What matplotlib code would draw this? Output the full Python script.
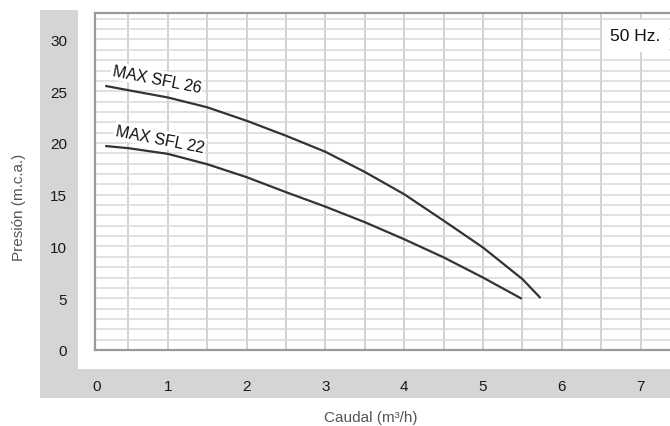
import numpy as np
import matplotlib
matplotlib.use("Agg")
import matplotlib.pyplot as plt
from matplotlib.patches import Rectangle

plt.rcParams['font.family'] = ['Liberation Sans', 'DejaVu Sans']

# Data (Caudal m3/h, Presion m.c.a.)
q_sfl26 = [0.22, 0.5, 1.0, 1.5, 2.0, 2.5, 3.0, 3.5, 4.0, 4.5, 5.0, 5.5, 5.72]
h_sfl26 = [25.5, 25.1, 24.4, 23.45, 22.15, 20.7, 19.15, 17.2, 15.05, 12.5, 9.9, 6.85, 5.1]
q_sfl22 = [0.22, 0.5, 1.0, 1.5, 2.0, 2.5, 3.0, 3.5, 4.0, 4.5, 5.0, 5.48]
h_sfl22 = [19.7, 19.5, 18.95, 17.95, 16.7, 15.25, 13.85, 12.35, 10.7, 8.95, 7.0, 5.0]
series_names = ["MAX SFL 26", "MAX SFL 22"]

x_ticks = [0, 1, 2, 3, 4, 5, 6, 7]
y_ticks = [0, 5, 10, 15, 20, 25, 30]
x_grid = np.arange(0.5, 7.5, 0.5)
y_grid = np.arange(1, 33, 1)
x_min, x_max = 0.076, 7.373
y_min, y_max = 0.0, 32.56

W, H = 670, 427
fig = plt.figure(figsize=(W / 100, H / 100), dpi=100)

band = '#d4d5d7'
# gray L-shaped band (figure coordinates)
fig.patches.append(Rectangle((40 / W, 1 - 399 / H), 38 / W, 388 / H,
                             transform=fig.transFigure, facecolor=band,
                             edgecolor='none', zorder=-1))
fig.patches.append(Rectangle((40 / W, 1 - 399 / H), 630 / W, 29 / H,
                             transform=fig.transFigure, facecolor=band,
                             edgecolor='none', zorder=-1))

ax = fig.add_axes([95 / W, 1 - 351 / H, (W - 95) / W, (351 - 14) / H])
ax.set_xlim(x_min, x_max)
ax.set_ylim(y_min, y_max)

for xv in x_grid:
    ax.axvline(xv, color='#cfcfcf', lw=1.3, zorder=1)
for yv in y_grid:
    ax.axhline(yv, color='#d9d9d9', lw=1.1, zorder=1)

for s in ['left', 'top', 'bottom']:
    ax.spines[s].set_color('#9a9a9a')
    ax.spines[s].set_linewidth(1.6)
ax.spines['right'].set_visible(False)

ax.plot(q_sfl26, h_sfl26, color='#333333', lw=1.6, zorder=3)
ax.plot(q_sfl22, h_sfl22, color='#333333', lw=1.6, zorder=3)

ax.set_xticks([max(t, x_min + 0.02) for t in x_ticks])
ax.set_xticklabels([str(t) for t in x_ticks])
ax.set_yticks(y_ticks)
ax.set_yticklabels([str(t) for t in y_ticks])
ax.tick_params(axis='x', length=0, pad=21, labelsize=11, labelcolor='#1a1a1a')
ax.tick_params(axis='y', length=0, pad=20, labelsize=11, labelcolor='#1a1a1a')

lbl_box = dict(facecolor='white', edgecolor='none', pad=1.2)
ax.text(0.86, 26.2, series_names[0], rotation=-11, rotation_mode='anchor',
        ha='center', va='center', fontsize=11.5, color='#111111',
        bbox=lbl_box, zorder=4)
ax.text(0.90, 20.4, series_names[1], rotation=-11, rotation_mode='anchor',
        ha='center', va='center', fontsize=11.5, color='#111111',
        bbox=lbl_box, zorder=4)

ax.text(0.94, 0.932, "50 Hz.", transform=ax.transAxes, ha='center',
        va='center', fontsize=12.5, color='#111111',
        bbox=dict(facecolor='white', edgecolor='none', pad=6), zorder=4)

fig.text(19 / W, 1 - 207 / H, "Presión (m.c.a.)", rotation=90, ha='center',
         va='center', fontsize=11, color='#555555')
fig.text(371 / W, 1 - 418 / H, "Caudal (m³/h)", ha='center', va='center',
         fontsize=11, color='#555555')

fig.savefig("out.png", dpi=100)
